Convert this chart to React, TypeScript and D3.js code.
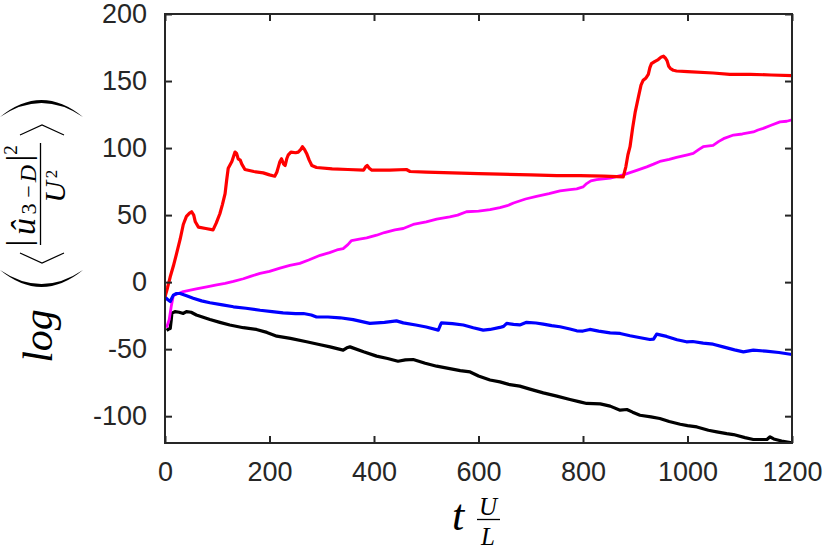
import * as React from "react"
import * as d3 from "d3"

// [t, value] pairs
const redSeries: [number, number][] = [
    [0, -11], [5, -4], [10, 4], [16, 12], [22, 21], [29, 32], [35, 43], [41, 49], [47, 51.5], [51, 52.5],
    [55, 50], [58, 45], [64, 41], [78, 40], [92, 39], [98, 44], [105, 51], [110, 58], [115, 66], [118, 76],
    [121, 85], [128, 90], [134, 97], [137, 96], [140, 92], [144, 91], [147, 88], [153, 84], [170, 82.5],
    [188, 81.5], [200, 80], [210, 79], [214, 82], [217, 86], [220, 90], [223, 92], [227, 88], [230, 87],
    [233, 92], [236, 95], [241, 97], [250, 96.5], [255, 97], [260, 99], [263, 101], [267, 99], [271, 96],
    [276, 91], [281, 87], [290, 85.5], [320, 84.5], [350, 84], [380, 83.5], [384, 86], [387, 87], [391, 85],
    [396, 83.5], [430, 83.5], [462, 84], [469, 82.5], [500, 82], [550, 81.5], [600, 81], [641, 80.5],
    [700, 80], [750, 79.5], [794, 79.5], [840, 79], [877, 78.5], [882, 86], [886, 95], [890, 101],
    [895, 115], [900, 127], [906, 138], [911, 147], [915, 150.5], [920, 152], [925, 155], [928, 160],
    [931, 163], [937, 164.5], [944, 166], [950, 168], [954, 168.5], [958, 167], [961, 165], [964, 161],
    [967, 159.5], [973, 158], [979, 157.5], [1000, 157], [1049, 156], [1081, 155], [1120, 155],
    [1160, 154.5], [1200, 154],
]

const magentaSeries: [number, number][] = [
    [3, -34], [8, -28], [12, -18], [16, -10], [22, -9], [35, -7], [60, -5], [80, -3.5], [99, -2], [115, -1],
    [131, 0.5], [150, 2.5], [165, 4.5], [182, 6.5], [200, 8], [220, 10.5], [239, 12.5], [258, 14],
    [275, 16.5], [297, 20], [315, 22], [329, 24], [341, 25], [350, 28], [357, 31], [372, 32], [386, 33],
    [405, 35], [420, 37], [440, 39], [456, 40], [475, 43], [500, 45], [520, 47], [545, 48.7], [560, 50],
    [577, 52.5], [600, 53], [622, 54], [641, 55.5], [655, 57], [667, 59], [690, 62], [711, 64], [735, 66],
    [756, 68], [775, 69], [788, 69.5], [800, 71], [807, 73.5], [815, 75.5], [826, 76.5], [852, 77.5],
    [877, 80], [900, 83], [922, 86], [935, 88], [947, 90], [965, 91.5], [979, 93], [1000, 95], [1011, 96],
    [1022, 99], [1030, 101], [1049, 102], [1060, 105], [1069, 107], [1088, 109.7], [1105, 110.5],
    [1126, 112], [1135, 113.5], [1145, 114.7], [1160, 117], [1177, 119.5], [1190, 120], [1200, 121],
]

const blueSeries: [number, number][] = [
    [0, -11], [5, -13], [10, -14.5], [13, -12], [16, -9.7], [22, -8.5], [29, -8.5], [40, -10], [54, -12],
    [70, -14], [86, -15.4], [110, -17], [131, -18.4], [155, -19.5], [182, -21], [205, -22], [226, -23],
    [250, -23.5], [265, -23.4], [280, -24.5], [290, -26], [312, -26], [335, -26.6], [360, -28], [392, -30.8],
    [420, -30], [443, -28.9], [456, -30.4], [480, -32], [500, -33.5], [523, -35.8], [527, -32], [529, -30.4],
    [550, -31], [571, -32], [590, -34], [609, -35.8], [622, -35.3], [641, -33.8], [648, -33], [654, -30.8],
    [667, -31.5], [679, -31.9], [692, -30], [710, -30.5], [724, -31.3], [740, -32.5], [756, -33.3],
    [775, -35], [788, -36.3], [800, -36.5], [813, -35.3], [830, -36.5], [852, -37.8], [871, -38.3],
    [890, -40], [910, -41.5], [928, -42.8], [935, -42.5], [941, -38.8], [960, -40.5], [980, -43],
    [998, -44.5], [1010, -44.3], [1030, -45.5], [1049, -46.3], [1070, -48.5], [1090, -50.5], [1107, -52],
    [1126, -50.7], [1150, -51.5], [1175, -52.5], [1200, -54],
]

const blackSeries: [number, number][] = [
    [3, -36], [7, -35], [10, -34.6], [12, -28], [13, -23.4], [19, -22], [27, -22.5], [35, -23.4], [41, -22],
    [50, -22.5], [60, -24.5], [86, -27.9], [105, -30], [124, -32], [150, -34], [175, -35.3], [195, -37.5],
    [214, -40.3], [240, -42], [271, -44.5], [295, -46.5], [316, -48.3], [341, -50.7], [348, -49], [354, -48.3],
    [380, -52], [405, -55.2], [426, -57], [446, -59], [460, -58], [475, -57.7], [498, -60.5], [520, -62.7],
    [545, -64.5], [565, -66], [584, -67], [600, -70], [622, -73], [641, -74.4], [660, -76.5], [679, -77.6],
    [700, -80], [724, -82.6], [750, -85], [775, -87.5], [794, -89.3], [807, -90.5], [833, -90.8],
    [852, -92.5], [871, -95.5], [884, -95], [895, -97], [909, -99.3], [930, -100.5], [947, -101.7],
    [965, -104], [986, -106], [1000, -107], [1018, -108], [1040, -110.5], [1056, -111.7], [1075, -113],
    [1088, -113.7], [1110, -116], [1126, -117.4], [1140, -117.4], [1152, -117.4], [1158, -115.4],
    [1165, -117], [1180, -118.5], [1200, -120],
]

const xTicks = [0, 200, 400, 600, 800, 1000, 1200]
const yTicks = [-100, -50, 0, 50, 100, 150, 200]

const axisColor = "#262626"
const tickFont = "'Liberation Sans', Arial, sans-serif"
const mathFont = "'Liberation Serif', 'Times New Roman', serif"

const margin = { top: 14, right: 38, bottom: 105, left: 165 }
const width = 830
const height = 548

function App(): JSX.Element {
    const ref = React.useRef<SVGGElement | null>(null)

    React.useEffect(() => {
        const innerW = width - margin.left - margin.right
        const innerH = height - margin.top - margin.bottom

        const x = d3.scaleLinear().domain([0, 1200]).range([0, innerW])
        const y = d3.scaleLinear().domain([-120, 200]).range([innerH, 0])

        const g = d3.select(ref.current)
        g.selectAll("*").remove()

        g.append("clipPath").attr("id", "plot-clip")
            .append("rect").attr("width", innerW).attr("height", innerH)

        const line = d3.line<[number, number]>()
            .x(d => x(d[0]))
            .y(d => y(d[1]))

        const series: [[number, number][], string, number][] = [
            [blackSeries, "#000000", 3.2],
            [magentaSeries, "#ff00ff", 2.8],
            [blueSeries, "#0000ff", 3.2],
            [redSeries, "#ff0000", 3.2],
        ]
        const lines = g.append("g").attr("clip-path", "url(#plot-clip)")
        series.forEach(([data, color, w]) => {
            lines.append("path")
                .datum(data)
                .attr("fill", "none")
                .attr("stroke", color)
                .attr("stroke-width", w)
                .attr("stroke-linejoin", "round")
                .attr("d", line)
        })

        // axes: ticks point inward on all four sides
        const styleAxis = (sel: any) => { // tslint:disable-line no-any
            sel.select(".domain").remove()
            sel.selectAll("line").attr("stroke", axisColor).attr("stroke-width", 2)
            sel.selectAll("text").attr("fill", axisColor)
                .style("font-family", tickFont).style("font-size", "27px")
        }
        const fmt = (d: any) => String(d) // tslint:disable-line no-any

        g.append("g")
            .attr("transform", "translate(0," + innerH + ")")
            .call(d3.axisBottom(x).tickValues(xTicks).tickFormat(fmt).tickSizeInner(-7).tickSizeOuter(0).tickPadding(19))
            .call(styleAxis)
        g.append("g")
            .call(d3.axisTop(x).tickValues(xTicks).tickSizeInner(-7).tickSizeOuter(0).tickFormat(() => ""))
            .call(styleAxis)
        g.append("g")
            .call(d3.axisLeft(y).tickValues(yTicks).tickFormat(fmt).tickSizeInner(-7).tickSizeOuter(0).tickPadding(18))
            .call(styleAxis)
        g.append("g")
            .attr("transform", "translate(" + innerW + ",0)")
            .call(d3.axisRight(y).tickValues(yTicks).tickSizeInner(-7).tickSizeOuter(0).tickFormat(() => ""))
            .call(styleAxis)

        g.append("rect")
            .attr("width", innerW)
            .attr("height", innerH)
            .attr("fill", "none")
            .attr("stroke", axisColor)
            .attr("stroke-width", 2)
    }, [])

    return (
        <svg width={width} height={height} style={{ position: "absolute", left: 0, top: 0, background: "#fff" }}>
            <g ref={ref} transform={"translate(" + margin.left + "," + margin.top + ")"} />

            {/* x label: t U/L */}
            <g fontFamily={mathFont} fill="#000">
                <text x={452} y={530} fontSize={44} fontStyle="italic">t</text>
                <text x={488} y={515} fontSize={25} fontStyle="italic" textAnchor="middle">U</text>
                <line x1={477} x2={500} y1={519.5} y2={519.5} stroke="#000" strokeWidth={1.3} />
                <text x={488} y={545} fontSize={25} fontStyle="italic" textAnchor="middle">L</text>
            </g>

            {/* y label: log( < |u_3-D|^2 / U^2 > ), rotated so local x = -pageY, local y = pageX */}
            <g transform="rotate(-90)" fontFamily={mathFont} fill="#000" textAnchor="middle">
                <text x={-336} y={52} fontSize={42} fontStyle="italic">log</text>
                <path d="M -270 0 Q -304 41.5 -270 83 Q -298 41.5 -270 0 Z" fill="#000" />
                <path d="M -253 20 L -263 42 L -253 64" fill="none" stroke="#000" strokeWidth={1.2} />
                <text x={-243} y={30} fontSize={34}>|</text>
                <text x={-226.5} y={35} fontSize={34} fontStyle="italic">û</text>
                <text x={-209} y={36} fontSize={22}>3</text>
                <text x={-191.5} y={36} fontSize={22}>−</text>
                <text x={-173.5} y={36} fontSize={24} fontStyle="italic">D</text>
                <text x={-158} y={30} fontSize={34}>|</text>
                <text x={-150} y={17} fontSize={19}>2</text>
                <line x1={-245} x2={-143} y1={40.5} y2={40.5} stroke="#000" strokeWidth={1.3} />
                <text x={-192} y={65} fontSize={30} fontStyle="italic">U</text>
                <text x={-174} y={57} fontSize={17}>2</text>
                <path d="M -135 20 L -125 42 L -135 64" fill="none" stroke="#000" strokeWidth={1.2} />
                <path d="M -117 0 Q -83 41.5 -117 83 Q -89 41.5 -117 0 Z" fill="#000" />
            </g>
        </svg>
    )
}

export default App
